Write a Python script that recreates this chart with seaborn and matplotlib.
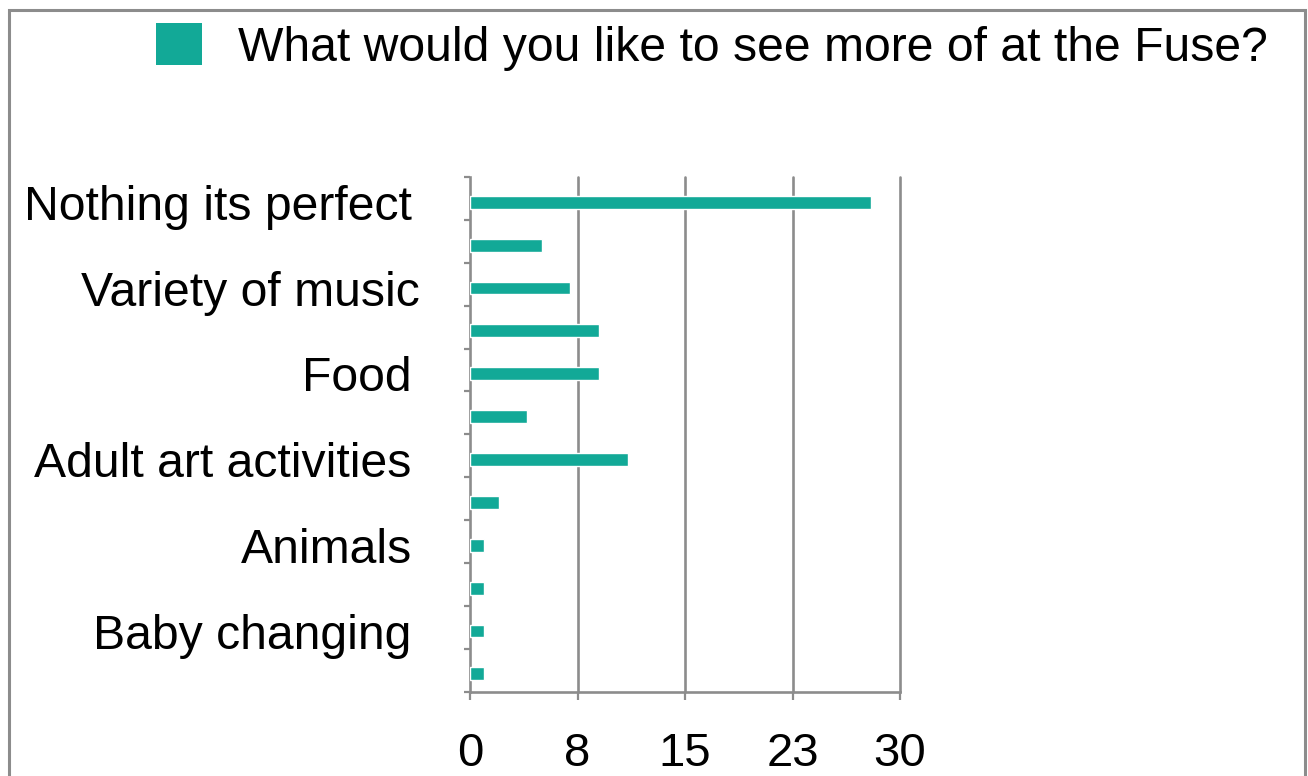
import matplotlib
matplotlib.use("Agg")
import matplotlib.pyplot as plt
from matplotlib.patches import Rectangle, Patch
from matplotlib.transforms import ScaledTranslation
import seaborn as sns
import pandas as pd

# Survey responses, top to bottom; only every other row carries a visible label
row_labels = ["Nothing its perfect", "", "Variety of music", "", "Food", "",
              "Adult art activities", "", "Animals", "", "Baby changing", ""]
counts = [28, 5, 7, 9, 9, 4, 11, 2, 1, 1, 1, 1]
series_name = "What would you like to see more of at the Fuse?"
x_ticks = [0, 7.5, 15, 22.5, 30]
x_tick_labels = ["0", "8", "15", "23", "30"]

teal = "#12A997"
grey = "#8C8C8C"

sns.set_theme(style="white")
plt.rcParams["font.family"] = ["Liberation Sans", "DejaVu Sans"]
plt.rcParams["text.color"] = "black"
plt.rcParams["xtick.labelcolor"] = "black"
plt.rcParams["ytick.labelcolor"] = "black"

W, H = 1308, 776
fig = plt.figure(figsize=(W / 100, H / 100), dpi=100)
fig.patch.set_facecolor("white")

left, right, top, bottom = 470, 900, 177, 691.5
ax = fig.add_axes([left / W, (H - bottom) / H, (right - left) / W, (bottom - top) / H])

df = pd.DataFrame({"row": list(range(len(counts))), "count": counts})
sns.barplot(data=df, x="count", y="row", orient="h", color=teal, width=0.3,
            saturation=1, ax=ax, label=series_name, zorder=3)

# rows sit slightly below the centre of each band
off = -0.09
n = len(counts)
ax.set_xlim(0, 30)
ax.set_ylim(n - 0.5 + off, -0.5 + off)
ax.set_xlabel("")
ax.set_ylabel("")

# vertical gridlines
ax.set_xticks(x_ticks)
ax.set_xticklabels(x_tick_labels, fontsize=34)
for xv in x_ticks[1:]:
    ax.axvline(xv, color=grey, lw=1.9, zorder=1, clip_on=False)

# band boundaries as major ticks, labels on minor ticks at row centres
ax.set_yticks([i - 0.5 + off for i in range(n + 1)])
ax.set_yticklabels([])
ax.set_yticks(list(range(n)), minor=True)
ax.set_yticklabels(row_labels, minor=True, fontsize=34.7)
ax.tick_params(axis="y", which="major", left=True, length=4.5, width=1.6,
               color=grey, direction="out")
ax.tick_params(axis="y", which="minor", left=True, length=0, pad=42)
ax.tick_params(axis="x", which="major", bottom=True, length=6, width=1.6,
               color=grey, direction="out", pad=23)

for lbl in ax.get_yticklabels(minor=True):
    if lbl.get_text() == "Variety of music":
        lbl.set_transform(lbl.get_transform() +
                          ScaledTranslation(8 / 100, 0, fig.dpi_scale_trans))

for side in ["top", "right"]:
    ax.spines[side].set_visible(False)
for side in ["left", "bottom"]:
    ax.spines[side].set_color(grey)
    ax.spines[side].set_linewidth(1.9)

# legend along the top
handle = Patch(facecolor=teal, edgecolor="none")
if ax.get_legend() is not None:
    ax.get_legend().remove()
fig.legend([handle], [series_name], loc="upper left",
           bbox_to_anchor=(137 / W, 1 - 4 / H), frameon=False,
           fontsize=34.7, handlelength=0.95, handleheight=0.95,
           handletextpad=0.75, borderaxespad=0, labelcolor="black")

# outer frame
fig.add_artist(Rectangle((9 / W, -0.05), (1305 - 9) / W, 1.05 - 10 / H,
                         transform=fig.transFigure, fill=False,
                         edgecolor=grey, lw=2.2))

fig.savefig("out.png", dpi=100, facecolor="white")
